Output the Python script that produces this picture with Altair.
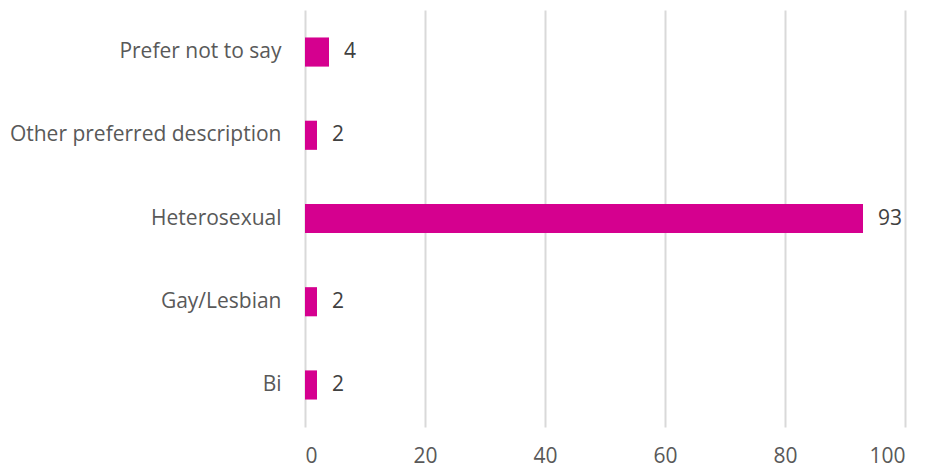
import altair as alt
import pandas as pd

categories = ["Prefer not to say", "Other preferred description", "Heterosexual", "Gay/Lesbian", "Bi"]
values = [4, 2, 93, 2, 2]

df = pd.DataFrame({"category": categories, "value": values})

FONT = "Open Sans"

base = alt.Chart(df).encode(
    y=alt.Y("category:N", sort=categories, title=None,
            scale=alt.Scale(paddingInner=0.65, paddingOuter=0.33),
            axis=alt.Axis(domain=False, ticks=False, labelFontSize=21, labelColor="#595959",
                          labelFont=FONT, labelPadding=24, grid=False, labelLimit=400)),
    x=alt.X("value:Q", title=None, scale=alt.Scale(domain=[0, 100]),
            axis=alt.Axis(values=[0, 20, 40, 60, 80, 100], domain=False, ticks=False,
                          labelFontSize=21, labelColor="#595959", labelFont=FONT,
                          labelPadding=18, gridColor="#D9D9D9", gridWidth=2)),
)

bars = base.mark_bar(color="#D5008F")
labels = base.mark_text(align="left", dx=15, fontSize=21, color="#404040", font=FONT).encode(
    text="value:Q")

chart = (bars + labels).properties(
    width=600, height=417,
    padding={"left": 1, "top": 2, "right": 5, "bottom": 2},
).configure_view(stroke=None)

chart.save("out.html", embed_options={"renderer": "svg", "actions": False})
